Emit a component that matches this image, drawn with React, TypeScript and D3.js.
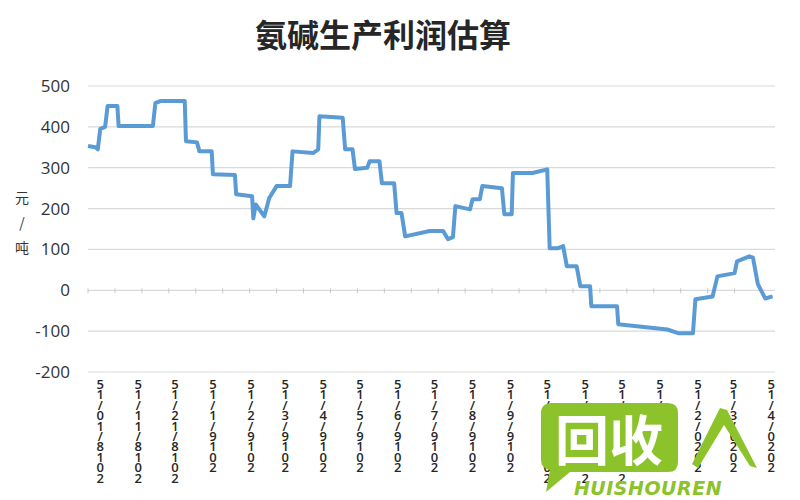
import React from "react";
import * as d3 from "d3";

const title = "氨碱生产利润估算";
const yAxisTitle = ["元", "/", "吨"];

const dates: string[] = [
  "2018-10-05", "2018-10-11", "2018-10-13", "2018-10-15", "2018-10-19", "2018-10-21", "2018-10-29", "2018-10-30",
  "2018-11-27", "2018-11-29", "2018-12-03", "2018-12-23", "2018-12-24", "2019-01-02", "2019-01-04", "2019-01-14",
  "2019-01-15", "2019-02-02", "2019-02-03", "2019-02-16", "2019-02-17", "2019-02-19", "2019-02-26", "2019-03-02",
  "2019-03-08", "2019-03-19", "2019-03-21", "2019-04-07", "2019-04-11", "2019-04-12", "2019-05-01", "2019-05-03",
  "2019-05-09", "2019-05-11", "2019-05-21", "2019-05-23", "2019-05-31", "2019-06-02", "2019-06-12", "2019-06-14",
  "2019-06-18", "2019-06-21", "2019-07-11", "2019-07-22", "2019-07-26", "2019-07-30", "2019-08-01", "2019-08-13",
  "2019-08-15", "2019-08-21", "2019-08-23", "2019-09-08", "2019-09-10", "2019-09-16", "2019-09-17", "2019-10-03",
  "2019-10-15", "2019-10-17", "2019-10-24", "2019-10-28", "2019-10-31", "2019-11-08", "2019-11-11", "2019-11-19",
  "2019-11-20", "2019-12-11", "2019-12-12", "2020-01-21", "2020-01-30", "2020-02-11", "2020-02-13", "2020-02-27",
  "2020-03-02", "2020-03-16", "2020-03-18", "2020-03-28", "2020-03-31", "2020-04-04", "2020-04-10", "2020-04-16",
];

const values: number[] = [
  353, 350, 345, 395, 400, 451, 451, 402,
  402, 458, 463, 463, 365, 362, 340, 340,
  284, 282, 235, 230, 176, 210, 181, 226,
  255, 255, 340, 336, 345, 426, 422, 345,
  345, 297, 300, 316, 316, 262, 262, 189,
  189, 132, 145, 145, 125, 130, 206, 198,
  223, 223, 255, 250, 186, 186, 287, 287,
  296, 103, 103, 108, 59, 59, 10, 10,
  -39, -39, -83, -96, -105, -105, -22, -15,
  34, 42, 71, 83, 80, 15, -20, -15,
];

const yTicks: number[] = [500, 400, 300, 200, 100, 0, -100, -200];

const xLabelDates: string[] = [
  "2018/10/15", "2018/11/15", "2018/12/15", "2019/1/15", "2019/2/15", "2019/3/15", "2019/4/15",
  "2019/5/15", "2019/6/15", "2019/7/15", "2019/8/15", "2019/9/15", "2019/10/15", "2019/11/15",
  "2019/12/15", "2020/1/15", "2020/2/15", "2020/3/15", "2020/4/15",
];

const domainStart = "2018-10-05";
const domainEnd = "2020-04-18";
const tickStepDays = 22;

const parse = d3.timeParse("%Y-%m-%d");
const parseSlash = d3.timeParse("%Y/%m/%d");

export default function App() {
  const W = 800;
  const H = 500;
  const x = d3
    .scaleTime()
    .domain([parse(domainStart)!, parse(domainEnd)!])
    .range([88, 775]);
  const y = d3.scaleLinear().domain([-200, 500]).range([372, 86]);

  const pts: [Date, number][] = dates.map((d, i) => [parse(d)!, values[i]]);
  const line = d3
    .line<[Date, number]>()
    .x((d) => x(d[0]))
    .y((d) => y(d[1]));

  const tickDates = d3.timeDay
    .range(parse(domainStart)!, parse(domainEnd)!, 1)
    .filter((_, i) => i % tickStepDays === 0);

  const [x0, x1] = x.range();
  const labelFont = "'Open Sans', 'DejaVu Sans', sans-serif";

  return (
    <svg
      width={W}
      height={H}
      viewBox={`0 0 ${W} ${H}`}
      style={{ position: "absolute", left: 0, top: 0, background: "#fff" }}
    >
      <rect x={0} y={0} width={W} height={H} fill="#fff" />
      <text
        x={383}
        y={47}
        textAnchor="middle"
        fontSize={32}
        fontWeight="bold"
        fill="#262626"
        fontFamily="'Noto Sans CJK SC', sans-serif"
      >
        {title}
      </text>

      {yTicks.map((t) => (
        <line
          key={"g" + t}
          x1={x0}
          x2={x1}
          y1={y(t)}
          y2={y(t)}
          stroke="#d9d9d9"
          strokeWidth={1.2}
        />
      ))}
      {tickDates.map((d, i) => (
        <line
          key={"t" + i}
          x1={x(d)}
          x2={x(d)}
          y1={y(0) - 2}
          y2={y(0) + 3}
          stroke="#c8c8c8"
          strokeWidth={1}
        />
      ))}

      {yTicks.map((t) => (
        <text
          key={"yl" + t}
          x={70}
          y={y(t) + 6}
          textAnchor="end"
          fontSize={17}
          fill="#333"
          fontFamily={labelFont}
        >
          {t}
        </text>
      ))}

      {yAxisTitle.map((c, i) => (
        <text
          key={"yt" + i}
          x={22}
          y={203 + i * 25}
          textAnchor="middle"
          fontSize={14}
          fill="#333"
          fontFamily="'Noto Sans CJK SC', sans-serif"
        >
          {c}
        </text>
      ))}

      {xLabelDates.map((lab, i) => {
        const cx = x(parseSlash(lab)!);
        const chars = lab.split("").reverse();
        return (
          <text
            key={"xl" + i}
            textAnchor="middle"
            fontSize={13}
            fontWeight={600}
            fill="#262626"
            fontFamily={labelFont}
          >
            {chars.map((c, j) => (
              <tspan key={j} x={cx} y={389 + j * 10.4}>
                {c}
              </tspan>
            ))}
          </text>
        );
      })}

      <path
        d={line(pts) || ""}
        fill="none"
        stroke="#5b9bd5"
        strokeWidth={4}
        strokeLinejoin="round"
      />

      {/* watermark */}
      <g>
        <path
          d="M552,403 H668 Q678,403 678,413 V462 Q678,472 668,472 H570 L546,492 L550,470 Q541,468 541,460 V413 Q541,403 552,403 Z"
          fill="#8cc32a"
        />
        <text
          x={609}
          y={461}
          textAnchor="middle"
          fontSize={54}
          fontWeight="bold"
          fill="#fff"
          fontFamily="'Noto Sans CJK SC', sans-serif"
        >
          回收
        </text>
        <text
          x={648}
          y={495}
          textAnchor="middle"
          fontSize={19}
          fontWeight="bold"
          fontStyle="italic"
          fill="#8cc32a"
          fontFamily="'DejaVu Sans', sans-serif"
          letterSpacing={0.5}
        >
          HUISHOUREN
        </text>
        <path
          d="M692,464 L720,408 L727,410 L757,468 L750,466 L724,425 L698,468 Z"
          fill="#8cc32a"
        />
      </g>
    </svg>
  );
}
